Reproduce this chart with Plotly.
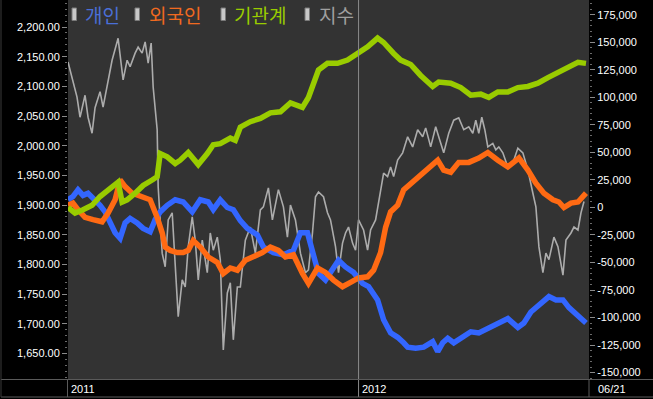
import plotly.graph_objects as go

# ---------------- data ----------------
# x positions are a time index: 0 = start of 2011, 290 = start of 2012
index_t = [0,4,9,12,17,20,24,27,32,35,39,44,50,55,59,62,67,70,74,77,80,83,85,89,90,94,97,100,104,107,110,114,117,120,124,127,130,134,139,142,145,149,152,155,159,162,165,169,
           172,177,182,187,192,195,200,204,210,215,219,222,227,232,237,240,244,247,250,255,259,262,267,270,274,277,280,284,287,290,295,299,302,307,310,315,319,322,325,329,334,339,
           344,349,354,357,362,367,370,375,380,385,390,395,400,404,407,410,413,416,419,424,427,430,434,439,444,449,454,459,464,467,470,474,477,480,485,489,494,497,502,505,509,512,515]
index_v = [2141,2114,2082,2048,2085,2048,2021,2064,2091,2065,2099,2144,2181,2111,2144,2133,2156,2166,2156,2175,2139,2173,2099,2027,1931,1819,1796,1875,1887,1808,1712,1774,1762,1830,1880,1841,1774,1841,1786,1853,1824,1846,1808,1656,1752,1769,1673,1762,
           1762,1841,1863,1819,1892,1897,1929,1875,1926,1897,1846,1900,1875,1819,1786,1791,1853,1914,1922,1914,1887,1875,1830,1786,1836,1853,1863,1836,1824,1875,1858,1824,1858,1875,1904,1954,1948,1964,1948,1976,1988,2015,
           1998,2027,2015,2030,1998,2032,2015,1988,2021,2043,2047,2027,2032,2021,2043,2021,2048,2027,1998,2004,1993,1998,1988,1964,1971,1996,1988,1959,1920,1897,1830,1786,1819,1808,1846,1830,1782,1841,1853,1863,1858,1887,1906]

inst_t = [0,7,15,24,32,40,47,50,54,59,67,75,84,89,92,99,107,112,120,130,139,145,152,162,167,172,182,192,202,212,222,234,240,245,250,259,269,279,290,299,309,315,325,332,342,352,364,370,382,392,402,412,420,429,439,449,459,469,479,489,499,509,517]
inst_v = [0,-5,-2,2,10,16,20,23,5,7,13,20,25,28,49,46,40,43,50,39,49,57,58,63,61,73,78,81,86,87,95,91,100,113,125,131,131,134,140,146,154,150,140,134,130,120,110,114,113,109,102,103,100,105,105,109,110,113,118,123,128,132,131]

indiv_t = [0,5,10,15,20,25,32,37,42,47,52,57,62,69,75,82,87,92,99,107,115,124,132,140,145,152,159,165,172,179,189,195,205,215,225,232,239,244,250,257,264,270,277,285,294,300,309,315,322,329,335,339,347,355,364,369,374,379,385,394,402,410,419,429,439,449,455,462,472,480,487,494,500,509,517]
indiv_v = [7,10,16,11,13,9,2,-4,-14,-23,-28,-14,-10,-14,-19,-22,-11,-4,2,7,5,-4,7,5,-2,7,0,-2,-12,-19,-25,-36,-41,-43,-39,-23,-23,-41,-60,-66,-57,-48,-54,-59,-69,-72,-84,-102,-114,-118,-123,-127,-128,-127,-122,-131,-123,-119,-123,-118,-113,-114,-110,-105,-101,-109,-105,-95,-87,-81,-84,-84,-91,-98,-105]

frgn_t = [0,5,10,17,25,34,40,47,52,57,64,72,82,89,94,97,102,109,115,120,125,132,140,149,155,162,169,177,185,194,202,210,217,225,234,240,249,257,265,274,282,290,299,305,312,317,322,329,335,340,350,360,369,375,382,390,400,410,419,429,439,450,459,467,475,484,490,495,502,509,517]
frgn_v = [2,4,-2,-9,-11,-13,-5,7,25,19,13,10,7,-9,-23,-36,-39,-41,-41,-39,-30,-36,-45,-50,-60,-55,-57,-48,-45,-41,-36,-39,-45,-43,-60,-69,-55,-59,-66,-72,-68,-64,-63,-57,-41,-18,-4,2,16,20,28,36,43,34,32,41,41,45,50,43,37,45,34,22,13,7,5,0,4,5,13]

k = 1000
left_ticks = [1650, 1700, 1750, 1800, 1850, 1900, 1950, 2000, 2050, 2100, 2150, 2200]
right_ticks = [-150000, -125000, -100000, -75000, -50000, -25000, 0, 25000, 50000, 75000, 100000, 125000, 150000, 175000]
year_labels = [(0, "2011"), (290, "2012")]
last_label = "06/21"
legend_names = ["개인", "외국인", "기관계", "지수"]

# ---------------- styling ----------------
W, H = 653, 399
L, R, T, B = 68, 589, 0, 379
def px(x):
    return (x - L) / (R - L)
def py(y):
    return (B - y) / (B - T)

BLUE = "#3366ff"
ORANGE = "#ff6a13"
GREEN = "#99cc00"
GRAY = "rgba(185,185,185,0.9)"
TICKFONT = dict(family="Liberation Sans", size=11, color="#ffffff")

fig = go.Figure()
fig.add_trace(go.Scatter(x=indiv_t, y=[v * k for v in indiv_v], mode="lines", yaxis="y2",
                         line=dict(color=BLUE, width=5.5), name=legend_names[0]))
fig.add_trace(go.Scatter(x=frgn_t, y=[v * k for v in frgn_v], mode="lines", yaxis="y2",
                         line=dict(color=ORANGE, width=5.5), name=legend_names[1]))
fig.add_trace(go.Scatter(x=inst_t, y=[v * k for v in inst_v], mode="lines", yaxis="y2",
                         line=dict(color=GREEN, width=5.5), name=legend_names[2]))
fig.add_trace(go.Scatter(x=index_t, y=index_v, mode="lines", yaxis="y",
                         line=dict(color=GRAY, width=1.6), name=legend_names[3]))

shapes = []
# vertical year divider
shapes.append(dict(type="line", xref="x", yref="paper", x0=290, x1=290, y0=py(397), y1=1,
                   line=dict(color="#8a8a8a", width=1)))
# bottom strip borders
line_c = "#5a5a5a"
shapes.append(dict(type="line", xref="paper", yref="paper", x0=px(1), x1=px(653), y0=py(379.5), y1=py(379.5), line=dict(color=line_c, width=1)))
shapes.append(dict(type="line", xref="paper", yref="paper", x0=px(1), x1=px(653), y0=py(397), y1=py(397), line=dict(color=line_c, width=1)))
shapes.append(dict(type="line", xref="paper", yref="paper", x0=px(67.5), x1=px(67.5), y0=py(397), y1=py(379.5), line=dict(color=line_c, width=1)))
shapes.append(dict(type="line", xref="paper", yref="paper", x0=px(589), x1=px(589), y0=py(397), y1=py(379.5), line=dict(color=line_c, width=1)))
shapes.append(dict(type="line", xref="paper", yref="paper", x0=px(1), x1=px(1), y0=py(397), y1=py(0), line=dict(color="#3a3a3a", width=1)))

annotations = []
for t, lab in year_labels:
    annotations.append(dict(x=t, xref="x", y=py(389), yref="paper", text=lab, showarrow=False,
                            xanchor="left", yanchor="middle", xshift=1, font=TICKFONT))
annotations.append(dict(x=px(596), xref="paper", y=py(389), yref="paper", text=last_label, showarrow=False,
                        xanchor="left", yanchor="middle", font=TICKFONT))

# legend
leg_colors = ["#4a6fd8", "#f06a20", "#99cc00", "#a0a0a0"]
leg_text_x = [83, 147, 232, 317]
leg_mark_x = [72, 135, 221, 305]
for name, c, tx, mx in zip(legend_names, leg_colors, leg_text_x, leg_mark_x):
    shapes.append(dict(type="rect", xref="paper", yref="paper", x0=px(mx), x1=px(mx + 4.5),
                       y0=py(20.5), y1=py(8), fillcolor="#c8c8c8", line=dict(color="#7a7a7a", width=1)))
    annotations.append(dict(x=px(tx), xref="paper", y=py(14.5), yref="paper", text=name, showarrow=False,
                            xanchor="left", yanchor="middle",
                            font=dict(family="Noto Sans CJK KR", size=19, color=c)))

fig.update_layout(
    width=W, height=H,
    margin=dict(l=L, r=W - R, t=T, b=H - B, autoexpand=False),
    paper_bgcolor="#000000",
    plot_bgcolor="#333333",
    showlegend=False,
    hovermode=False,
    shapes=shapes,
    annotations=annotations,
    xaxis=dict(range=[0, 520], showgrid=False, zeroline=False, showticklabels=False, ticks="",
               showline=False, automargin=False),
    yaxis=dict(range=[1607, 2245.5], tickvals=left_ticks,
               ticktext=[f"{v:,.2f}" for v in left_ticks],
               showgrid=False, zeroline=False, ticks="outside", ticklen=5, tickcolor="#8a8a8a",
               minor=dict(ticks="outside", ticklen=2, tickcolor="#6a6a6a", dtick=10, showgrid=False),
               tickfont=TICKFONT, showline=False, automargin=False),
    yaxis2=dict(range=[-155900, 188600], overlaying="y", side="right", tickvals=right_ticks,
                ticktext=[f"{v:,d}" for v in right_ticks],
                showgrid=False, zeroline=False, ticks="outside", ticklen=5, tickcolor="#8a8a8a",
                minor=dict(ticks="outside", ticklen=2, tickcolor="#6a6a6a", dtick=5000, showgrid=False),
                tickfont=TICKFONT, showline=False, automargin=False),
)

fig.write_html("out.html", config={"displayModeBar": False, "staticPlot": True},
               post_script="document.body.style.margin='0px';document.body.style.overflow='hidden';")
